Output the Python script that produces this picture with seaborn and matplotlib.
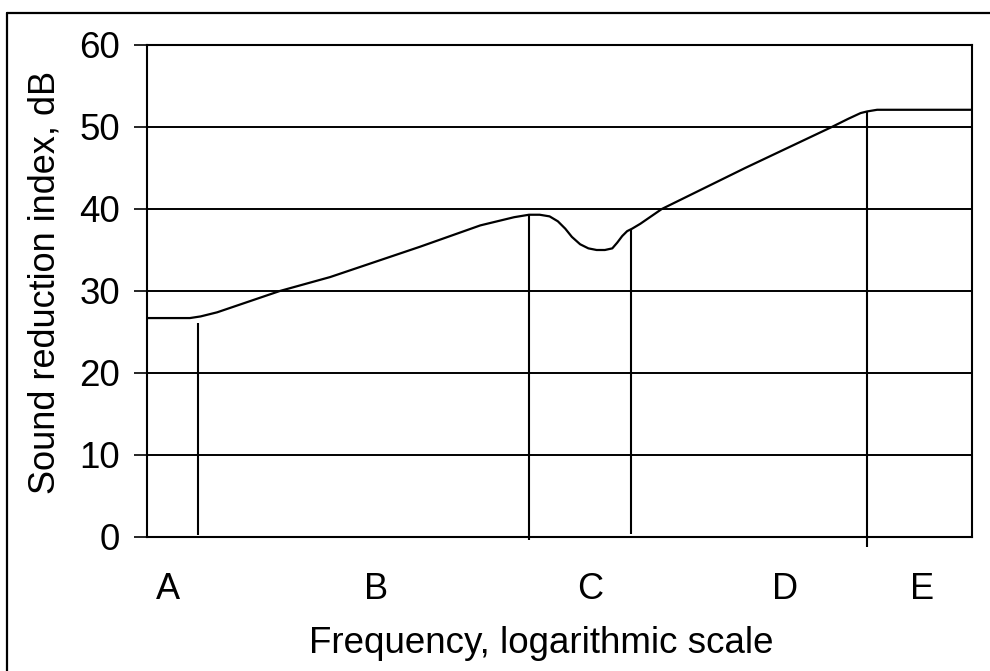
import matplotlib
matplotlib.use("Agg")
import matplotlib.pyplot as plt
from matplotlib.lines import Line2D
import seaborn as sns
import pandas as pd

# Position along the (logarithmic) frequency axis, 0..100, and sound reduction index in dB
freq_pos = [0, 5.2, 6.5, 8.5, 16.1, 22.2, 33.1, 40.4, 44.5, 46.3, 47.6, 48.8,
            49.8, 50.7, 51.5, 52.5, 53.5, 54.5, 55.5, 56.4, 57.0, 57.6, 58.2,
            58.8, 59.8, 62.4, 72.5, 83.0, 85.0, 86.5, 87.3, 88.5, 100]
reduction_db = [26.7, 26.7, 26.9, 27.4, 30.0, 31.7, 35.4, 38.0, 39.0, 39.3, 39.3, 39.1,
                38.5, 37.6, 36.6, 35.7, 35.2, 35.0, 35.0, 35.2, 35.9, 36.7, 37.3,
                37.6, 38.2, 40.0, 45.0, 50.0, 51.0, 51.7, 51.9, 52.1, 52.1]

# Region boundaries (vertical markers) and their extents in dB
boundary_pos = [6.2, 46.3, 58.7, 87.3]
boundary_low = [0.3, -0.4, 0.4, -1.2]
boundary_high = [26.1, 39.3, 37.6, 51.9]

# Region labels and their centres on the frequency axis
region_labels = ["A", "B", "C", "D", "E"]
region_pos = [2.5, 27.8, 53.7, 77.3, 93.9]

y_ticks = [0, 10, 20, 30, 40, 50, 60]

sns.set_theme(style="white")
plt.rcParams["font.family"] = ["Liberation Sans", "DejaVu Sans"]
plt.rcParams["text.color"] = "black"
plt.rcParams["axes.labelcolor"] = "black"
plt.rcParams["xtick.color"] = "black"
plt.rcParams["ytick.color"] = "black"

fig = plt.figure(figsize=(9.9, 6.71), dpi=100)
ax = fig.add_axes([147 / 990, 1 - 537 / 671, 825 / 990, 492 / 671])

df = pd.DataFrame({"freq": freq_pos, "R": reduction_db})
sns.lineplot(data=df, x="freq", y="R", sort=False, color="black", lw=1.6, ax=ax)

ax.vlines(boundary_pos, boundary_low, boundary_high, colors="black", lw=1.5,
          clip_on=False, zorder=3)

for y in y_ticks[1:-1]:
    ax.axhline(y, color="black", lw=1.4, zorder=1)

ax.set_xlim(0, 100)
ax.set_ylim(0, 60)
ax.set_yticks(y_ticks)
ax.set_xticks(region_pos)
ax.set_xticklabels(region_labels)
ax.tick_params(axis="y", direction="out", length=9.5, width=1.2, color="black",
               labelcolor="black", labelsize=26.5, pad=10, left=True)
ax.tick_params(axis="x", length=0, labelsize=26, labelcolor="black", pad=25)
for sp in ax.spines.values():
    sp.set_visible(True)
    sp.set_color("black")
    sp.set_linewidth(1.5)

ax.set_xlabel("Frequency, logarithmic scale", fontsize=26.5, color="black")
ax.xaxis.set_label_coords(0.4776, -0.181)
ax.set_ylabel("Sound reduction index, dB", fontsize=26, color="black")
ax.yaxis.set_label_coords(-0.103, 0.517)

# Frame around the figure
fig.add_artist(Line2D([6.7 / 990, 6.7 / 990], [0, 1 - 13.3 / 671],
                      transform=fig.transFigure, color="black", lw=1.6))
fig.add_artist(Line2D([6.7 / 990, 1], [1 - 13.3 / 671, 1 - 13.3 / 671],
                      transform=fig.transFigure, color="black", lw=1.6))

fig.savefig("out.png", dpi=100)
